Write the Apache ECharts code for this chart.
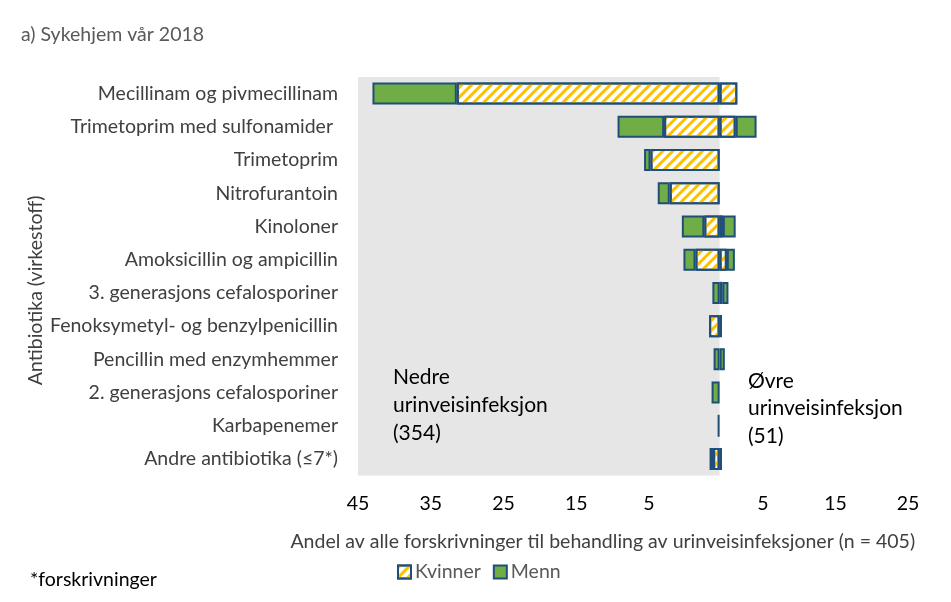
<!DOCTYPE html>
<html>
<head>
<meta charset="utf-8">
<script src="https://cdn.jsdelivr.net/npm/echarts@6/dist/echarts.min.js"></script>
<style>
html,body{margin:0;padding:0;background:#fff;}
#chart{width:951px;height:602px;}
</style>
</head>
<body>
<div id="chart"></div>
<script>
// Categories, top to bottom
const categories = [
  'Mecillinam og pivmecillinam',
  'Trimetoprim med sulfonamider ',
  'Trimetoprim',
  'Nitrofurantoin',
  'Kinoloner',
  'Amoksicillin og ampicillin',
  '3. generasjons cefalosporiner',
  'Fenoksymetyl- og benzylpenicillin',
  'Pencillin med enzymhemmer',
  '2. generasjons cefalosporiner',
  'Karbapenemer',
  'Andre antibiotika (≤7*)'
];
// Nedre urinveisinfeksjon (left side, negative = drawn to the left), % of n = 405
const kvinnerNedre = [-32.7, -6.9, -8.6, -6.2, -1.9, -3.0, '-', -1.3, '-', '-', '-', -0.8];
const mennNedre    = [-10.5, -5.8, -0.8, -1.5, -2.8, -1.5, -0.9, '-', -0.75, -1.0, -0.25, -0.45];
// Øvre urinveisinfeksjon (right side)
const kvinnerOvre  = [2.2, 2.0, '-', '-', 0.4, 0.9, 0.35, 0.3, '-', '-', '-', 0.3];
const mennOvre     = ['-', 2.6, '-', '-', 1.6, 1.0, 0.75, '-', 0.65, '-', '-', '-'];
// Value axis of the bars
const axisMin = -45, axisMax = 25;
// Tick labels as printed under the chart
const tickLabelsNedre = ['45', '35', '25', '15', '5'];
const tickLabelsOvre  = ['5', '15', '25'];

const FONT = 'Lato';
const navy = '#1F4E79';
const green = '#70AD47';
const yellow = '#FFC000';

const hatch = {
  symbol: 'rect',
  symbolSize: 1,
  dashArrayX: [1, 0],
  dashArrayY: [3, 4],
  rotation: -Math.PI / 4,
  color: yellow
};
const kvStyle = { color: '#ffffff', borderColor: navy, borderWidth: 2, decal: hatch };
const mnStyle = { color: green, borderColor: navy, borderWidth: 2 };

const gridTop = 77, gridBottom = 126.4;
const tickAxis = (idx, labels) => ({
  type: 'category', gridIndex: idx, data: labels, boundaryGap: false,
  axisLine: { show: false }, axisTick: { show: false }, splitLine: { show: false },
  axisLabel: { margin: 18, fontFamily: FONT, fontSize: 19.5, color: '#000000', interval: 0 }
});
const hiddenY = idx => ({ type: 'value', gridIndex: idx, show: false, min: 0, max: 1 });

const chart = echarts.init(document.getElementById('chart'));
chart.setOption({
  animation: false,
  backgroundColor: '#ffffff',
  textStyle: { fontFamily: FONT },
  title: {
    text: 'a) Sykehjem vår 2018',
    left: 16, top: 20,
    textStyle: { fontFamily: FONT, fontSize: 19.5, fontWeight: 'normal', color: '#595959' }
  },
  legend: {
    data: ['Kvinner', 'Menn'],
    left: 392, top: 557,
    itemWidth: 13, itemHeight: 13, itemGap: 12,
    icon: 'rect',
    textStyle: { fontFamily: FONT, fontSize: 19.5, color: '#595959', padding: [0, 0, 0, -1] }
  },
  grid: [
    { left: 358, right: 30.5, top: gridTop, bottom: gridBottom, containLabel: false },
    { left: 358, width: 291, top: gridTop, bottom: gridBottom, containLabel: false },
    { left: 763, width: 145, top: gridTop, bottom: gridBottom, containLabel: false }
  ],
  xAxis: [
    {
      type: 'value', gridIndex: 0, min: axisMin, max: axisMax,
      axisLine: { show: false }, axisTick: { show: false }, splitLine: { show: false },
      axisLabel: { show: false },
      name: 'Andel av alle forskrivninger til behandling av urinveisinfeksjoner (n = 405)',
      nameLocation: 'middle', nameGap: 56, nameMoveOverlap: false,
      nameTextStyle: { fontFamily: FONT, fontSize: 19.5, color: '#404040', padding: [0, 73, 0, 0] }
    },
    tickAxis(1, tickLabelsNedre),
    tickAxis(2, tickLabelsOvre)
  ],
  yAxis: [
    {
      type: 'category', gridIndex: 0, data: categories, inverse: true,
      axisLine: { show: false }, axisTick: { show: false },
      axisLabel: { margin: 20, fontFamily: FONT, fontSize: 19.5, color: '#404040' },
      name: 'Antibiotika (virkestoff)', nameLocation: 'middle', nameGap: 312, nameRotate: 90,
      nameMoveOverlap: false,
      nameTextStyle: { fontFamily: FONT, fontSize: 19.5, color: '#404040', padding: [0, 28, 0, 0] }
    },
    hiddenY(1),
    hiddenY(2)
  ],
  series: [
    {
      name: 'Kvinner', type: 'bar', stack: 'u', data: kvinnerNedre, barWidth: 22,
      itemStyle: kvStyle, z: 3,
      markArea: {
        silent: true, z: 0,
        itemStyle: { color: '#E7E6E6' },
        data: [[{ xAxis: axisMin }, { xAxis: 0 }]]
      }
    },
    { name: 'Menn', type: 'bar', stack: 'u', data: mennNedre, barWidth: 22, itemStyle: mnStyle, z: 3 },
    { name: 'Kvinner', type: 'bar', stack: 'u', data: kvinnerOvre, barWidth: 22, itemStyle: kvStyle, z: 3 },
    { name: 'Menn', type: 'bar', stack: 'u', data: mennOvre, barWidth: 22, itemStyle: mnStyle, z: 3 }
  ],
  graphic: [
    { type: 'text', left: 393, top: 363, z: 100, style: { text: 'Nedre\nurinveisinfeksjon\n(354)', font: '21px Lato', fill: '#000', lineHeight: 28 } },
    { type: 'text', left: 748, top: 367, z: 100, style: { text: 'Øvre\nurinveisinfeksjon\n(51)', font: '21px Lato', fill: '#000', lineHeight: 27.5 } },
    { type: 'text', left: 30, top: 570, z: 100, style: { text: '*forskrivninger', font: '19.5px Lato', fill: '#000' } }
  ]
});
</script>
</body>
</html>
